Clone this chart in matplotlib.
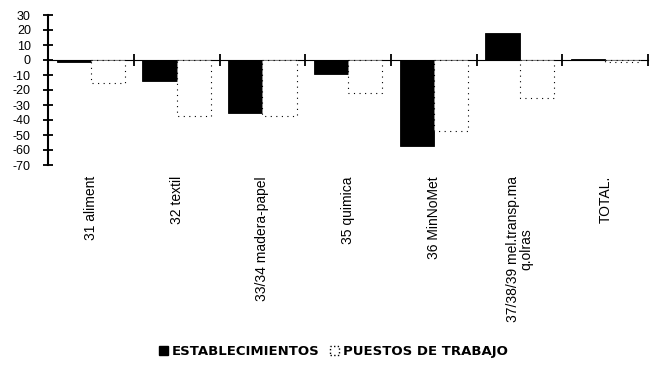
import numpy as np
import matplotlib
matplotlib.use("Agg")
import matplotlib.pyplot as plt
from matplotlib.patches import Patch

plt.rcParams['font.family'] = ['Liberation Sans', 'DejaVu Sans']
plt.rcParams['axes.unicode_minus'] = False

# datos
sectores = ['31 aliment', '32 textil', '33/34 madera-papel', '35 quimica',
            '36 MinNoMet', '37/38/39 mel.transp.ma\nq.olras', 'TOTAL.']
establecimientos = [-1, -14, -35, -9, -57, 18, 1]
puestos = [-15, -37, -37, -22, -47, -25, -1]
yticks = [30, 20, 10, 0, -10, -20, -30, -40, -50, -60, -70]

ymin, ymax = -70, 30
x = np.arange(len(sectores))
w = 0.4

fig = plt.figure(figsize=(6.6, 3.75), dpi=100)
ax = fig.add_axes([0.073, 0.56, 0.909, 0.40])

ax.bar(x + 0.1, establecimientos, w, align='edge', color='black',
       edgecolor='black', linewidth=0.6, zorder=2)
ax.bar(x + 0.1 + w, puestos, w, align='edge', color='white',
       edgecolor='black', linewidth=0.8, linestyle=(0, (1, 4)), zorder=2)

ax.set_xlim(0, len(sectores))
ax.set_ylim(ymin, ymax)

ax.set_yticks(yticks)
ax.set_yticklabels([str(v) for v in yticks], fontsize=9)
ax.tick_params(axis='y', direction='inout', length=7, width=1.3, pad=9)

ax.set_xticks(x + 0.5)
ax.set_xticklabels(sectores, rotation=90, fontsize=10, va='top', ha='center',
                   linespacing=1.0)
ax.tick_params(axis='x', length=0, pad=8)

for s in ['top', 'right', 'bottom']:
    ax.spines[s].set_visible(False)
ax.spines['left'].set_linewidth(1.5)

# eje cero con marcas de separacion entre sectores
sec = ax.secondary_xaxis((0 - ymin) / (ymax - ymin))
sec.set_xticks(np.arange(len(sectores) + 1))
sec.set_xticklabels([])
sec.tick_params(direction='inout', length=8, width=1.3)
sec.spines['bottom'].set_linewidth(1.6)

handles = [Patch(facecolor='black', edgecolor='black'),
           Patch(facecolor='white', edgecolor='black', linestyle=':')]
fig.legend(handles, ['ESTABLECIMIENTOS', 'PUESTOS DE TRABAJO'],
           loc='center', bbox_to_anchor=(0.505, 0.062), ncol=2, frameon=False,
           handlelength=0.7, handleheight=0.7, handletextpad=0.3,
           columnspacing=0.8,
           prop={'family': 'DejaVu Sans', 'size': 9.5, 'weight': 'bold'})

fig.savefig('out.png', dpi=100)
